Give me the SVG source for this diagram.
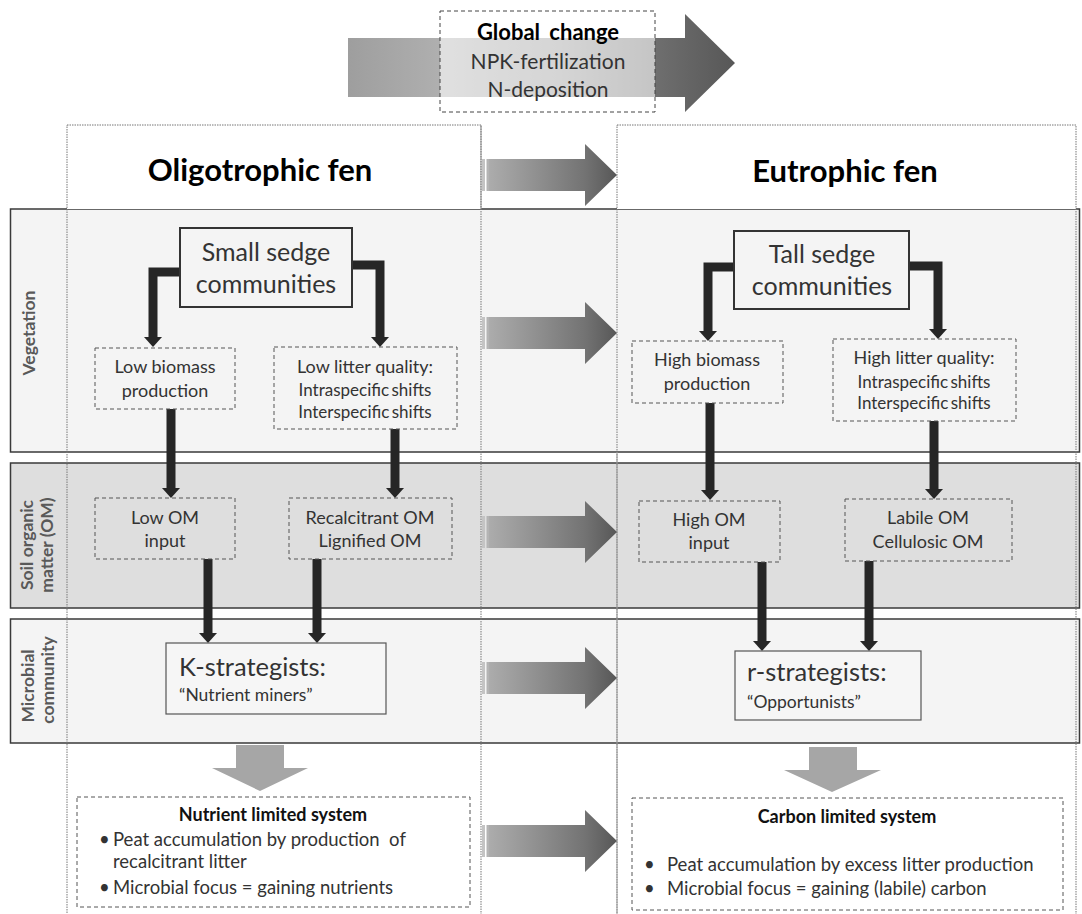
<svg xmlns="http://www.w3.org/2000/svg" xmlns:xlink="http://www.w3.org/1999/xlink" width="1082" height="914" viewBox="0 0 1082 914">
<style>
text{font-family:Lato,"Liberation Sans",sans-serif;fill:#333}
.band{stroke:#3a3a3a;stroke-width:1.5}
.col{fill:none;stroke:#777;stroke-width:1;stroke-dasharray:1.5 1}
.dash{fill:none;stroke:#555;stroke-width:1;stroke-dasharray:4 3}
.sedge{fill:#f4f4f4;stroke:#333;stroke-width:2}
.strat{fill:#f6f6f6;stroke:#555;stroke-width:1.2}
.conn{fill:none;stroke:#262626;stroke-width:9;marker-end:url(#ah)}
.lbl{font-weight:bold;font-size:17.5px;fill:#595959}
.t16{font-size:18px;text-anchor:middle}
.t15{font-size:17px;text-anchor:middle;word-spacing:-2px}
.big{font-size:25px}
.big2{font-size:25.5px}
.q{font-size:17.5px}
.hdr{font-weight:bold;font-size:31px;fill:#000;text-anchor:middle}
.down{fill:#a6a6a6}
.body{font-size:18.5px}
.ttl{font-weight:bold;font-size:18px;fill:#111;text-anchor:middle}
</style>
<defs>
<marker id="ah" markerUnits="userSpaceOnUse" viewBox="0 -9 10 18" refX="0" refY="0" markerWidth="10" markerHeight="18" orient="auto">
<path d="M0,-9 L10,0 L0,9 z" fill="#262626"/>
</marker>
<linearGradient id="gArr" gradientUnits="userSpaceOnUse" x1="489" y1="0" x2="617" y2="0">
<stop offset="0" stop-color="#acacac"/>
<stop offset="0.75" stop-color="#737373"/>
<stop offset="1" stop-color="#575757"/>
</linearGradient>
<linearGradient id="gGlob" gradientUnits="userSpaceOnUse" x1="348" y1="0" x2="735" y2="0">
<stop offset="0" stop-color="#9e9e9e"/>
<stop offset="0.25" stop-color="#b0b0b0"/>
<stop offset="0.55" stop-color="#969696"/>
<stop offset="0.8" stop-color="#6e6e6e"/>
<stop offset="1" stop-color="#575757"/>
</linearGradient>
<g id="bigArrow">
<rect x="482" y="-16" width="3" height="32" fill="#c4c4c4"/>
<rect x="486.5" y="-16" width="2.5" height="32" fill="#b4b4b4"/>
<path d="M489,-16 H585 V-31 L617,0 L585,31 V16 H489 z" fill="url(#gArr)"/>
</g>
</defs>
<rect x="0" y="0" width="1082" height="914" fill="#fff"/>

<g id="global-change">
<path d="M348,38 H685 V14 L735,63 L685,112 V97 H348 z" fill="url(#gGlob)"/>
<rect x="440" y="11" width="215" height="101" fill="#fff" fill-opacity="0.6" stroke="#444" stroke-width="1" stroke-dasharray="4 3"/>
<text x="548" y="40" style="font-weight:bold;font-size:22px;fill:#000;text-anchor:middle;word-spacing:4px">Global change</text>
<text x="548" y="69" style="font-size:21px;text-anchor:middle">NPK-fertilization</text>
<text x="548" y="97" style="font-size:21px;text-anchor:middle">N-deposition</text>
</g>

<g id="bands">
<rect class="band" x="10.5" y="209" width="1069" height="243" fill="#f4f4f4"/>
<rect class="band" x="10.5" y="463" width="1069" height="145" fill="#dedede"/>
<rect class="band" x="10.5" y="619" width="1069" height="124" fill="#f4f4f4"/>
<text class="lbl" transform="translate(35,333) rotate(-90)" text-anchor="middle">Vegetation</text>
<text class="lbl" transform="translate(33,545) rotate(-90)" text-anchor="middle">Soil organic</text>
<text class="lbl" transform="translate(53,545) rotate(-90)" text-anchor="middle">matter (OM)</text>
<text class="lbl" transform="translate(34,686) rotate(-90)" text-anchor="middle">Microbial</text>
<text class="lbl" transform="translate(54,680) rotate(-90)" text-anchor="middle">community</text>
</g>

<g id="oligotrophic-header">
<rect x="67" y="125" width="414" height="84" fill="#fff"/>
<line x1="481" y1="125" x2="481" y2="209" stroke="#999" stroke-width="1"/>
<text class="hdr" x="260" y="181">Oligotrophic fen</text>
</g>
<g id="eutrophic-header">
<rect x="617" y="125" width="459" height="84" fill="#fff"/>
<text class="hdr" x="845" y="182">Eutrophic fen</text>
</g>

<g id="columns">
<rect class="col" x="67" y="125" width="414" height="800"/>
<rect class="col" x="617" y="125" width="459" height="800"/>
<line x1="617" y1="452" x2="617" y2="914" stroke="#999" stroke-width="1"/>
</g>

<g id="transition-arrows">
<use xlink:href="#bigArrow" transform="translate(0,175)"/>
<use xlink:href="#bigArrow" transform="translate(0,333)"/>
<use xlink:href="#bigArrow" transform="translate(0,532)"/>
<use xlink:href="#bigArrow" transform="translate(0,678)"/>
<use xlink:href="#bigArrow" transform="translate(0,841)"/>
</g>

<g id="connectors">
<path class="conn" d="M181,272 H153 V337"/>
<path class="conn" d="M351,265 H380 V337"/>
<path class="conn" d="M171,409 V488"/>
<path class="conn" d="M395,429 V488"/>
<path class="conn" d="M208,559 V633"/>
<path class="conn" d="M317,559 V633"/>
<path class="conn" d="M735,267 H708 V331"/>
<path class="conn" d="M908,266 H938 V329"/>
<path class="conn" d="M710,403 V490"/>
<path class="conn" d="M934,421 V489"/>
<path class="conn" d="M762,562 V641"/>
<path class="conn" d="M869,561 V641"/>
</g>

<g id="small-sedge">
<rect class="sedge" x="180" y="228" width="172" height="79"/>
<text class="big" x="266" y="261" text-anchor="middle">Small sedge</text>
<text class="big" x="266" y="293" text-anchor="middle">communities</text>
</g>
<g id="low-biomass">
<rect class="dash" x="95" y="348" width="140" height="61"/>
<text class="t16" x="165" y="373">Low biomass</text>
<text class="t16" x="165" y="397">production</text>
</g>
<g id="low-litter">
<rect class="dash" x="274" y="347" width="183" height="82"/>
<text class="t16" x="365" y="373">Low litter quality:</text>
<text class="t15" x="365" y="396">Intraspecific shifts</text>
<text class="t15" x="365" y="418">Interspecific shifts</text>
</g>
<g id="low-om">
<rect class="dash" x="95" y="498" width="140" height="61"/>
<text class="t16" x="165" y="524">Low OM</text>
<text class="t16" x="165" y="547">input</text>
</g>
<g id="recalcitrant-om">
<rect class="dash" x="289" y="498" width="163" height="61"/>
<text class="t16" x="370" y="524">Recalcitrant OM</text>
<text class="t16" x="370" y="547">Lignified OM</text>
</g>
<g id="k-strategists">
<rect class="strat" x="166" y="643" width="220" height="71"/>
<text class="big2" x="179" y="676">K-strategists:</text>
<text class="q" x="179" y="701">“Nutrient miners”</text>
</g>

<g id="tall-sedge">
<rect class="sedge" x="734" y="231" width="175" height="78"/>
<text class="big" x="822" y="263" text-anchor="middle">Tall sedge</text>
<text class="big" x="822" y="295" text-anchor="middle">communities</text>
</g>
<g id="high-biomass">
<rect class="dash" x="632" y="341" width="151" height="62"/>
<text class="t16" x="707" y="366">High biomass</text>
<text class="t16" x="707" y="390">production</text>
</g>
<g id="high-litter">
<rect class="dash" x="833" y="339" width="183" height="82"/>
<text class="t16" x="924" y="364">High litter quality:</text>
<text class="t15" x="924" y="388">Intraspecific shifts</text>
<text class="t15" x="924" y="409">Interspecific shifts</text>
</g>
<g id="high-om">
<rect class="dash" x="639" y="501" width="141" height="61"/>
<text class="t16" x="709" y="526">High OM</text>
<text class="t16" x="709" y="549">input</text>
</g>
<g id="labile-om">
<rect class="dash" x="845" y="499" width="167" height="62"/>
<text class="t16" x="928" y="524">Labile OM</text>
<text class="t16" x="928" y="548">Cellulosic OM</text>
</g>
<g id="r-strategists">
<rect class="strat" x="735" y="651" width="186" height="69"/>
<text class="big2" x="747" y="681">r-strategists:</text>
<text class="q" x="747" y="708">“Opportunists”</text>
</g>

<g id="down-arrows">
<path class="down" d="M236,745 H284 V768 H308 L260,791 L212,768 H236 z"/>
<path class="down" d="M809,747 H857 V770 H881 L832,792 L784,770 H809 z"/>
</g>

<g id="nutrient-limited">
<rect class="dash" x="77" y="797" width="393" height="110"/>
<text class="ttl" x="273" y="821">Nutrient limited system</text>
<text class="body" x="99" y="846">•</text>
<text class="body" x="113" y="846">Peat accumulation by production&#160; of</text>
<text class="body" x="113" y="868">recalcitrant litter</text>
<text class="body" x="99" y="894">•</text>
<text class="body" x="113" y="894">Microbial focus = gaining nutrients</text>
</g>
<g id="carbon-limited">
<rect class="dash" x="632" y="798" width="431" height="112"/>
<text class="ttl" x="847" y="823">Carbon limited system</text>
<text class="body" x="644" y="871">•</text>
<text class="body" x="667" y="871">Peat accumulation by excess litter production</text>
<text class="body" x="644" y="895">•</text>
<text class="body" x="667" y="895">Microbial focus = gaining (labile) carbon</text>
</g>
</svg>
